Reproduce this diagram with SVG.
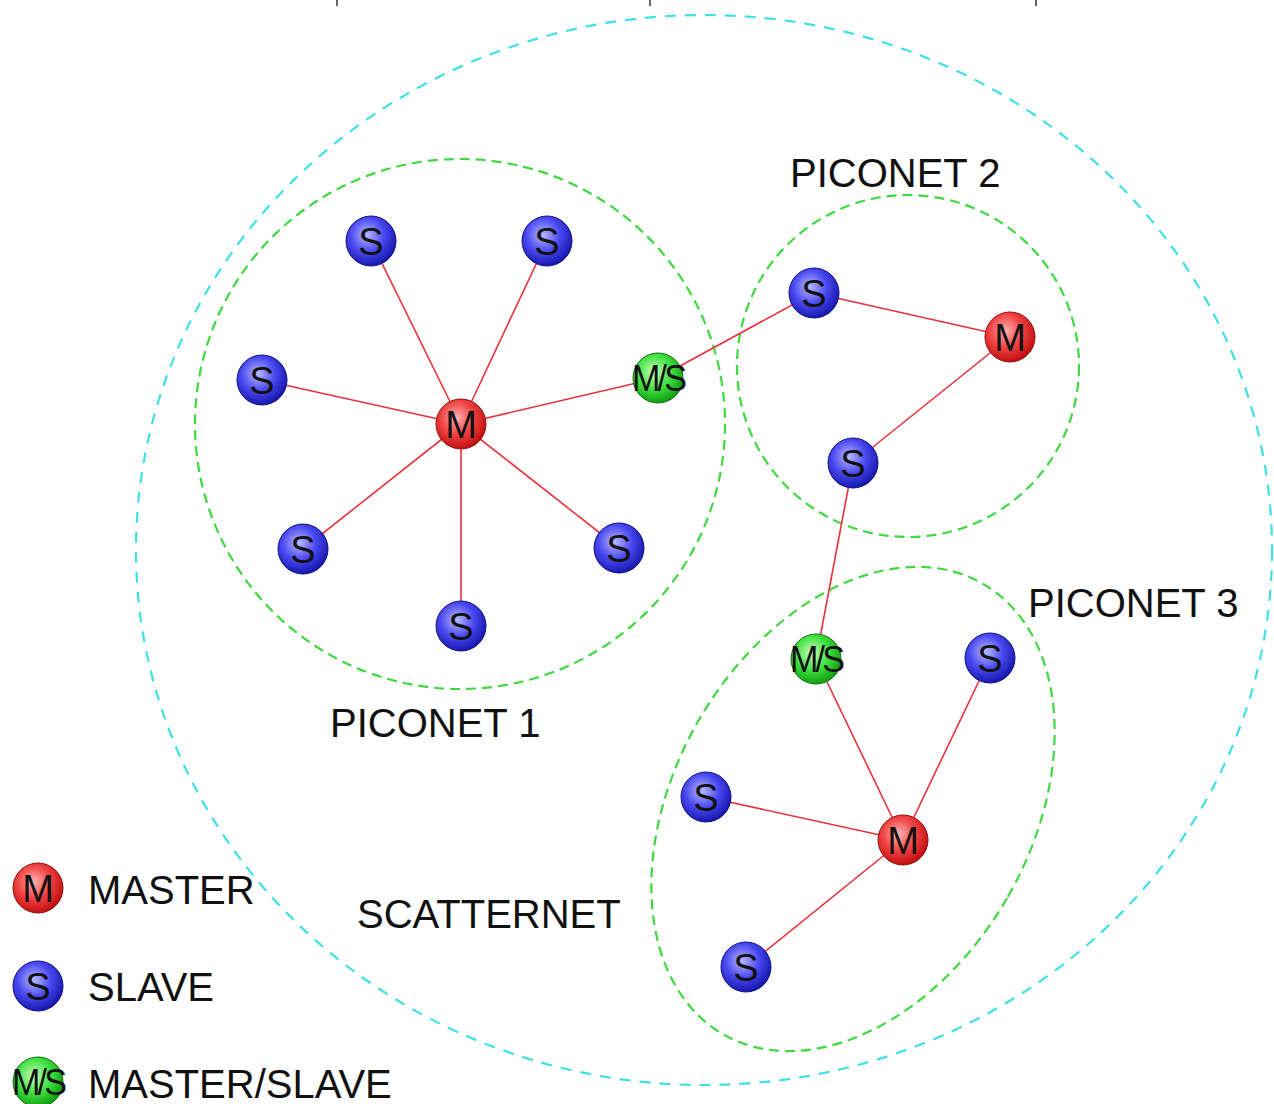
<svg xmlns="http://www.w3.org/2000/svg" width="1274" height="1104" viewBox="0 0 1274 1104">
  <style>
    .lbl { font-family: "Liberation Sans", Arial, sans-serif; font-size: 40px; fill: #111; }
    .nt { font-family: "Liberation Sans", Arial, sans-serif; font-size: 38px; fill: #111; text-anchor: middle; }
    .ms { font-family: "Liberation Sans", Arial, sans-serif; font-size: 36px; fill: #111; text-anchor: middle; letter-spacing: -3px; }
    .link { stroke: #e8323c; stroke-width: 1.6; fill: none; }
    .scatter { fill: none; stroke: #3fe0e8; stroke-width: 2.2; stroke-dasharray: 11 9; }
    .piconet { fill: none; stroke: #3fd83f; stroke-width: 2.2; stroke-dasharray: 10 6; }
    .tick { stroke: #333; stroke-width: 1.5; }
  </style>
  <defs>
    <radialGradient id="gM" cx="0.42" cy="0.38" r="0.62">
      <stop offset="0" stop-color="#ffb0b0"/>
      <stop offset="0.55" stop-color="#f04040"/>
      <stop offset="1" stop-color="#c01010"/>
    </radialGradient>
    <radialGradient id="gS" cx="0.42" cy="0.38" r="0.62">
      <stop offset="0" stop-color="#b8b8ff"/>
      <stop offset="0.55" stop-color="#4848f0"/>
      <stop offset="1" stop-color="#1818b0"/>
    </radialGradient>
    <radialGradient id="gMS" cx="0.42" cy="0.38" r="0.62">
      <stop offset="0" stop-color="#c8ffc0"/>
      <stop offset="0.55" stop-color="#40e040"/>
      <stop offset="1" stop-color="#12a012"/>
    </radialGradient>
    <circle id="nM" r="25" fill="url(#gM)" stroke="#901010" stroke-width="1"/>
    <circle id="nS" r="25" fill="url(#gS)" stroke="#101080" stroke-width="1"/>
    <circle id="nMS" r="25" fill="url(#gMS)" stroke="#107010" stroke-width="1"/>
  </defs>

  <rect width="1274" height="1104" fill="#ffffff"/>

  <!-- small marks along the top edge -->
  <g id="ticks">
    <line class="tick" x1="337" y1="0" x2="337" y2="6"/>
    <line class="tick" x1="650" y1="0" x2="650" y2="6"/>
    <line class="tick" x1="1036" y1="0" x2="1036" y2="6"/>
  </g>

  <!-- network boundaries -->
  <g id="boundaries">
    <ellipse id="scatternet" class="scatter" cx="704" cy="550" rx="568" ry="535"/>
    <circle id="piconet1" class="piconet" cx="460" cy="424" r="265"/>
    <circle id="piconet2" class="piconet" cx="908" cy="366" r="171"/>
    <ellipse id="piconet3" class="piconet" cx="853" cy="809" rx="178" ry="260" transform="rotate(30 853 809)"/>
  </g>

  <!-- links -->
  <g id="connectors">
    <line class="link" x1="461" y1="424" x2="371" y2="241"/>
    <line class="link" x1="461" y1="424" x2="547" y2="241"/>
    <line class="link" x1="461" y1="424" x2="262" y2="380"/>
    <line class="link" x1="461" y1="424" x2="303" y2="549"/>
    <line class="link" x1="461" y1="424" x2="461" y2="626"/>
    <line class="link" x1="461" y1="424" x2="619" y2="548"/>
    <line class="link" x1="461" y1="424" x2="658" y2="378"/>
    <line class="link" x1="658" y1="378" x2="814" y2="293"/>
    <line class="link" x1="814" y1="293" x2="1010" y2="337"/>
    <line class="link" x1="1010" y1="337" x2="853" y2="463"/>
    <line class="link" x1="853" y1="463" x2="816" y2="659"/>
    <line class="link" x1="816" y1="659" x2="903" y2="840"/>
    <line class="link" x1="903" y1="840" x2="990" y2="658"/>
    <line class="link" x1="903" y1="840" x2="706" y2="797"/>
    <line class="link" x1="903" y1="840" x2="746" y2="967"/>
  </g>

  <!-- piconet 1 -->
  <g id="p1-master"><use href="#nM" x="461" y="424"/><text class="nt" x="461" y="438">M</text></g>
  <g id="p1-slave-a"><use href="#nS" x="371" y="241"/><text class="nt" x="371" y="255">S</text></g>
  <g id="p1-slave-b"><use href="#nS" x="547" y="241"/><text class="nt" x="547" y="255">S</text></g>
  <g id="p1-slave-c"><use href="#nS" x="262" y="380"/><text class="nt" x="262" y="394">S</text></g>
  <g id="p1-slave-d"><use href="#nS" x="303" y="549"/><text class="nt" x="303" y="563">S</text></g>
  <g id="p1-slave-e"><use href="#nS" x="461" y="626"/><text class="nt" x="461" y="640">S</text></g>
  <g id="p1-slave-f"><use href="#nS" x="619" y="548"/><text class="nt" x="619" y="562">S</text></g>
  <g id="bridge-1"><use href="#nMS" x="658" y="378"/><text class="ms" x="658" y="391" textLength="52" lengthAdjust="spacingAndGlyphs">M/S</text></g>

  <!-- piconet 2 -->
  <g id="p2-slave-a"><use href="#nS" x="814" y="293"/><text class="nt" x="814" y="307">S</text></g>
  <g id="p2-master"><use href="#nM" x="1010" y="337"/><text class="nt" x="1010" y="351">M</text></g>
  <g id="p2-slave-b"><use href="#nS" x="853" y="463"/><text class="nt" x="853" y="477">S</text></g>

  <!-- piconet 3 -->
  <g id="bridge-2"><use href="#nMS" x="816" y="659"/><text class="ms" x="816" y="672" textLength="52" lengthAdjust="spacingAndGlyphs">M/S</text></g>
  <g id="p3-slave-a"><use href="#nS" x="990" y="658"/><text class="nt" x="990" y="672">S</text></g>
  <g id="p3-slave-b"><use href="#nS" x="706" y="797"/><text class="nt" x="706" y="811">S</text></g>
  <g id="p3-master"><use href="#nM" x="903" y="840"/><text class="nt" x="903" y="854">M</text></g>
  <g id="p3-slave-c"><use href="#nS" x="746" y="967"/><text class="nt" x="746" y="981">S</text></g>

  <!-- labels -->
  <g id="labels">
    <text class="lbl" x="790" y="187">PICONET 2</text>
    <text class="lbl" x="330" y="737">PICONET 1</text>
    <text class="lbl" x="1028" y="617">PICONET 3</text>
    <text class="lbl" x="357" y="928">SCATTERNET</text>
  </g>

  <!-- legend -->
  <g id="legend">
    <g id="legend-master"><use href="#nM" x="38" y="888"/><text class="nt" x="38" y="902">M</text><text class="lbl" x="88" y="904">MASTER</text></g>
    <g id="legend-slave"><use href="#nS" x="38" y="986"/><text class="nt" x="38" y="1000">S</text><text class="lbl" x="88" y="1001">SLAVE</text></g>
    <g id="legend-ms"><use href="#nMS" x="38" y="1082"/><text class="ms" x="38" y="1095" textLength="52" lengthAdjust="spacingAndGlyphs">M/S</text><text class="lbl" x="88" y="1098">MASTER/SLAVE</text></g>
  </g>
</svg>
